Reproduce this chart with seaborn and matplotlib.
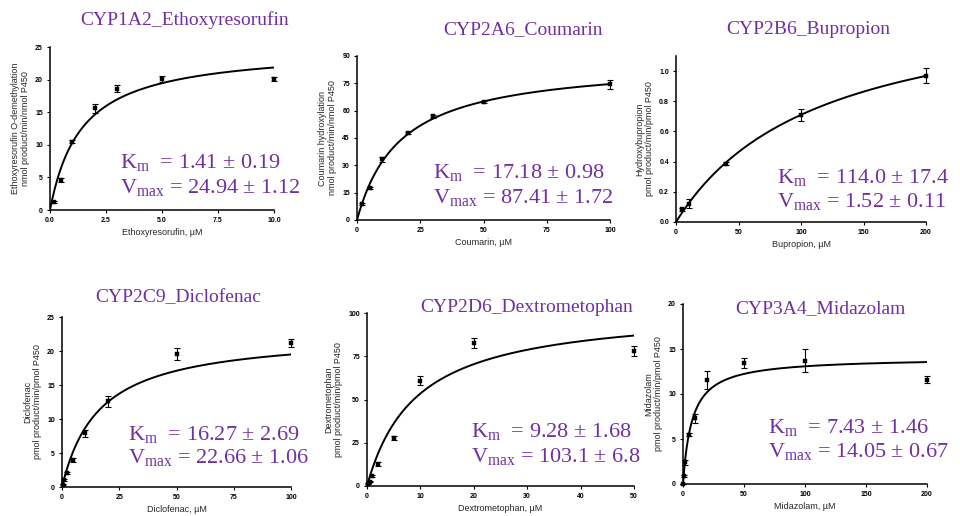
import numpy as np
import pandas as pd
import matplotlib
matplotlib.use("Agg")
import matplotlib.pyplot as plt
import seaborn as sns

sns.set_style("ticks")
plt.rcParams["font.family"] = ["Liberation Sans", "DejaVu Sans"]
plt.rcParams["mathtext.fontset"] = "custom"
plt.rcParams["mathtext.rm"] = "Liberation Serif"
plt.rcParams["mathtext.it"] = "Liberation Serif:italic"

PURPLE = "#7030A0"

titles = ["CYP1A2_Ethoxyresorufin", "CYP2A6_Coumarin", "CYP2B6_Bupropion",
          "CYP2C9_Diclofenac", "CYP2D6_Dextrometophan", "CYP3A4_Midazolam"]
xlabels = ["Ethoxyresorufin, \u00b5M", "Coumarin, \u00b5M", "Bupropion, \u00b5M",
           "Diclofenac, \u00b5M", "Dextrometophan, \u00b5M", "Midazolam, \u00b5M"]
ylabels = ["Ethoxyresorufin O-demethylation\nnmol product/min/nmol P450",
           "Coumarin hydroxylation\nnmol product/min/nmol P450",
           "Hydroxybupropion\npmol product/min/pmol P450",
           "Diclofenac\npmol product/min/pmol P450",
           "Dextrometophan\npmol product/min/pmol P450",
           "Midazolam\npmol product/min/pmol P450"]

# kinetic parameters (as printed)
km_txt = ["1.41", "17.18", "114.0", "16.27", "9.28", "7.43"]
km_err_txt = ["0.19", "0.98", "17.4", "2.69", "1.68", "1.46"]
vmax_txt = ["24.94", "87.41", "1.52", "22.66", "103.1", "14.05"]
vmax_err_txt = ["1.12", "1.72", "0.11", "1.06", "6.8", "0.67"]

# measured data
conc_1a2 = [0.2, 0.5, 1, 2, 3, 5, 10]
rate_1a2 = [1.3, 4.6, 10.5, 15.6, 18.6, 20.1, 20.1]
err_1a2 = [0.15, 0.25, 0.3, 0.7, 0.5, 0.4, 0.3]

conc_2a6 = [2, 5, 10, 20, 30, 50, 100]
rate_2a6 = [8.6, 17.7, 33.3, 47.7, 56.8, 64.7, 74.5]
err_2a6 = [0.5, 0.6, 1.2, 0.6, 1.0, 0.5, 2.5]

conc_2b6 = [5, 10, 40, 100, 200]
rate_2b6 = [0.084, 0.12, 0.386, 0.71, 0.97]
err_2b6 = [0.01, 0.03, 0.01, 0.04, 0.05]

conc_2c9 = [0.5, 1, 2, 5, 10, 20, 50, 100]
rate_2c9 = [0.35, 1.0, 2.06, 4.0, 7.9, 12.6, 19.6, 21.2]
err_2c9 = [0.1, 0.15, 0.15, 0.3, 0.5, 0.8, 0.9, 0.6]

conc_2d6 = [0.25, 0.5, 1, 2, 5, 10, 20, 50]
rate_2d6 = [1.2, 2.5, 5.8, 12.5, 27.6, 60.8, 82.8, 78.0]
err_2d6 = [0.3, 0.4, 0.5, 1.2, 1.2, 2.5, 3.0, 2.7]

conc_3a4 = [0, 1, 2, 5, 10, 20, 50, 100, 200]
rate_3a4 = [0.0, 0.85, 2.4, 5.5, 7.3, 11.6, 13.45, 13.7, 11.6]
err_3a4 = [0.0, 0.1, 0.3, 0.2, 0.5, 1.0, 0.6, 1.3, 0.4]

concs = [conc_1a2, conc_2a6, conc_2b6, conc_2c9, conc_2d6, conc_3a4]
rates = [rate_1a2, rate_2a6, rate_2b6, rate_2c9, rate_2d6, rate_3a4]
errs = [err_1a2, err_2a6, err_2b6, err_2c9, err_2d6, err_3a4]

xlims = [10, 100, 200, 100, 50, 200]
ylims = [25, 90, 1.1, 25, 100, 20]
xticks = [[0, 2.5, 5, 7.5, 10], [0, 25, 50, 75, 100], [0, 50, 100, 150, 200],
          [0, 25, 50, 75, 100], [0, 10, 20, 30, 40, 50], [0, 50, 100, 150, 200]]
yticks = [[0, 5, 10, 15, 20, 25], [0, 15, 30, 45, 60, 75, 90], [0, 0.2, 0.4, 0.6, 0.8, 1.0],
          [0, 5, 10, 15, 20, 25], [0, 25, 50, 75, 100], [0, 5, 10, 15, 20]]
xfmt = ["{:.1f}", "{:g}", "{:g}", "{:g}", "{:g}", "{:g}"]
yfmt = ["{:g}", "{:g}", "{:.1f}", "{:g}", "{:g}", "{:g}"]

W, H = 960, 516
# axes boxes in pixels: left, right, top, bottom
boxes = [(50, 274, 47, 210), (357, 610, 56, 220), (676, 926, 56, 222),
         (62, 291, 317, 487), (367, 634, 313, 486), (683, 927, 304, 484)]
title_pos = [(185, 20), (523, 30), (808, 30), (178, 298), (527, 308), (820, 309)]
text_pos = [(120, 168, 193), (433, 178, 203), (777, 183, 207),
            (128, 440, 463), (471, 437, 462), (768, 433, 457)]

fig = plt.figure(figsize=(W / 100, H / 100), dpi=100)
fig.patch.set_facecolor("white")

for i in range(6):
    l, r, t, b = boxes[i]
    ax = fig.add_axes([l / W, 1 - b / H, (r - l) / W, (b - t) / H])
    ax.set_facecolor("white")
    km = float(km_txt[i])
    vm = float(vmax_txt[i])
    xf = np.linspace(0, xlims[i], 400)
    fit = pd.DataFrame({"x": xf, "y": vm * xf / (km + xf)})
    sns.lineplot(data=fit, x="x", y="y", ax=ax, color="black", lw=1.4)
    ax.errorbar(concs[i], rates[i], yerr=errs[i], fmt="none", ecolor="black",
                elinewidth=0.8, capsize=2, capthick=0.8, clip_on=False, zorder=3)
    pts = pd.DataFrame({"x": concs[i], "y": rates[i]})
    sns.scatterplot(data=pts, x="x", y="y", ax=ax, marker="s", s=10, color="black",
                    edgecolor="black", linewidth=0.3, clip_on=False, zorder=4)
    ax.set_xlim(0, xlims[i])
    ax.set_ylim(0, ylims[i])
    ax.set_xticks(xticks[i])
    ax.set_yticks(yticks[i])
    ax.set_xticklabels([xfmt[i].format(v) for v in xticks[i]], fontsize=5, fontweight="bold")
    ax.set_yticklabels([yfmt[i].format(v) for v in yticks[i]], fontsize=5, fontweight="bold")
    ax.tick_params(length=2.5, width=0.8, pad=2.5, colors="black")
    for s in ["top", "right"]:
        ax.spines[s].set_visible(False)
    for s in ["left", "bottom"]:
        ax.spines[s].set_linewidth(1.1)
        ax.spines[s].set_color("black")
    ax.set_xlabel(xlabels[i], fontsize=6.5, labelpad=3)
    ax.set_ylabel(ylabels[i], fontsize=6.5, labelpad=4, linespacing=1.1)

    tx, ty = title_pos[i]
    fig.text(tx / W, 1 - ty / H, titles[i], color=PURPLE, fontsize=14,
             family="Liberation Serif", ha="center", va="center")
    px, y1, y2 = text_pos[i]
    fig.text(px / W, 1 - y1 / H,
             r"$\mathrm{K_m}$  = " + km_txt[i] + " \u00b1 " + km_err_txt[i],
             color=PURPLE, fontsize=16, family="Liberation Serif", va="baseline")
    fig.text(px / W, 1 - y2 / H,
             r"$\mathrm{V_{max}}$ = " + vmax_txt[i] + " \u00b1 " + vmax_err_txt[i],
             color=PURPLE, fontsize=16, family="Liberation Serif", va="baseline")

fig.savefig("out.png", dpi=100, facecolor="white")
